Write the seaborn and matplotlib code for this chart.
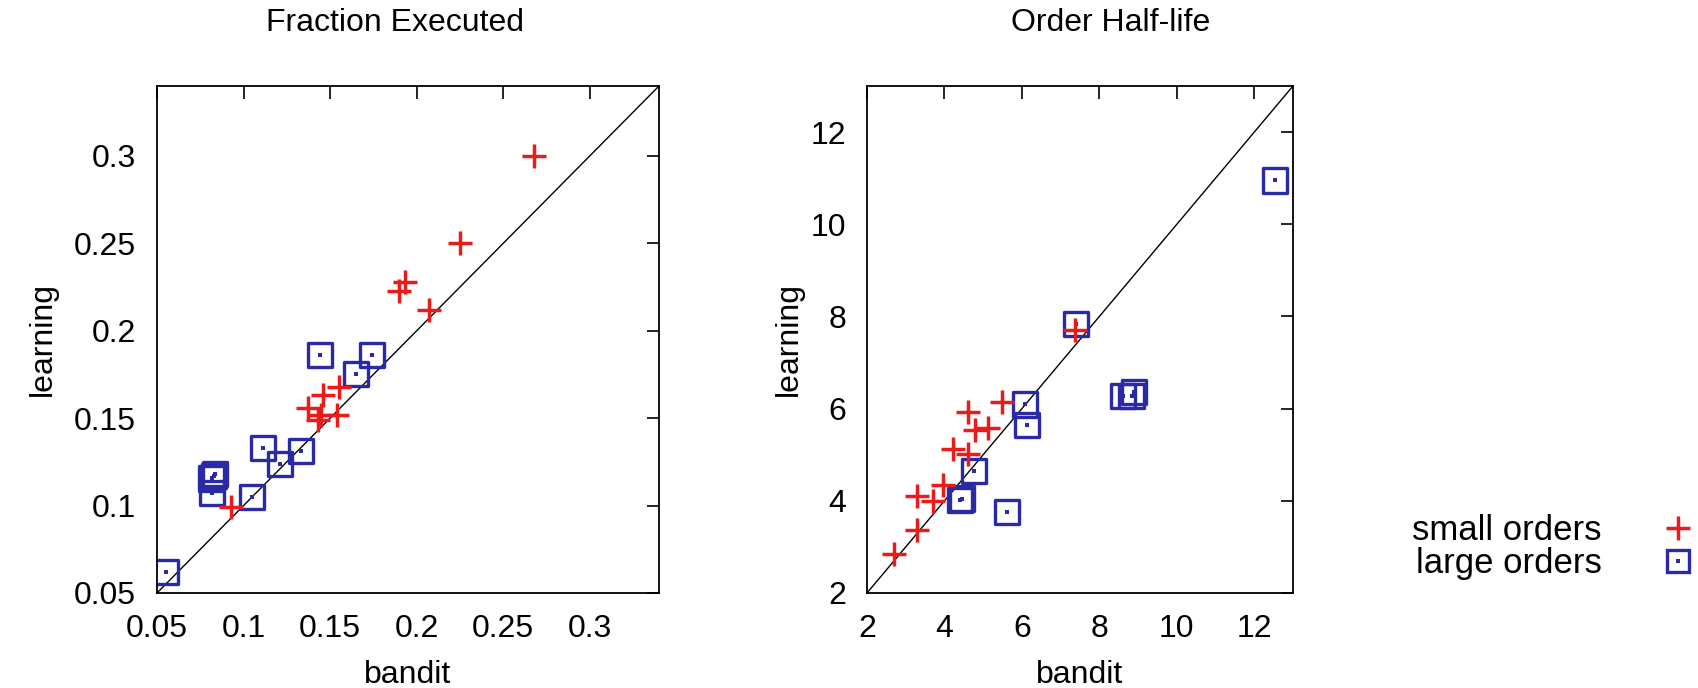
import numpy as np
import pandas as pd
import matplotlib
matplotlib.use('Agg')
import matplotlib.pyplot as plt
import seaborn as sns
from matplotlib.lines import Line2D
from matplotlib.legend_handler import HandlerTuple

# Fraction Executed panel
frac_small_bandit = [0.268, 0.225, 0.193, 0.190, 0.207, 0.155, 0.146, 0.137, 0.143, 0.145, 0.154, 0.093]
frac_small_learning = [0.300, 0.250, 0.228, 0.223, 0.212, 0.168, 0.163, 0.156, 0.149, 0.152, 0.152, 0.099]
frac_large_bandit = [0.055, 0.105, 0.083, 0.0815, 0.0835, 0.082, 0.111, 0.121, 0.133, 0.144, 0.165, 0.174]
frac_large_learning = [0.062, 0.105, 0.117, 0.1155, 0.118, 0.107, 0.133, 0.124, 0.131, 0.186, 0.175, 0.186]
frac_ticks = [0.05, 0.1, 0.15, 0.2, 0.25, 0.3]
frac_tick_labels = ["0.05", "0.1", "0.15", "0.2", "0.25", "0.3"]
frac_lim = (0.05, 0.34)

# Order Half-life panel
half_small_bandit = [2.71, 3.29, 3.29, 3.70, 3.95, 4.23, 4.62, 4.62, 4.79, 5.13, 5.49, 7.36]
half_small_learning = [2.85, 3.37, 4.11, 3.99, 4.34, 5.12, 5.02, 5.93, 5.54, 5.57, 6.14, 7.71]
half_large_bandit = [4.40, 4.46, 4.77, 5.61, 6.08, 6.12, 7.39, 8.61, 8.89, 8.83, 12.54]
half_large_learning = [4.02, 4.05, 4.65, 3.76, 6.09, 5.64, 7.83, 6.28, 6.37, 6.27, 10.95]
half_ticks = [2, 4, 6, 8, 10, 12]
half_tick_labels = ["2", "4", "6", "8", "10", "12"]
half_lim = (2, 13)

RED = "#ec1a1a"
BLUE = "#2a2aa6"

sns.set_theme(style="white")
plt.rcParams['font.family'] = ['Liberation Sans', 'DejaVu Sans']
plt.rcParams['text.color'] = 'black'
plt.rcParams['axes.labelcolor'] = 'black'
FS = 23

fig = plt.figure(figsize=(16.99, 6.88), dpi=100)
ax1 = fig.add_axes([157 / 1699, 95 / 688, 502 / 1699, 507 / 688])
ax2 = fig.add_axes([867 / 1699, 95 / 688, 426 / 1699, 507 / 688])


def draw_panel(ax, sb, sl, lb, ll, ticks, tick_labels, lim):
    small = pd.DataFrame({"bandit": sb, "learning": sl})
    large = pd.DataFrame({"bandit": lb, "learning": ll})
    ax.axline((lim[0], lim[0]), slope=1, color="black", lw=1.0, zorder=1)
    sns.scatterplot(data=small, x="bandit", y="learning", marker="+", s=320,
                    color=RED, linewidth=2.5, ax=ax, zorder=3)
    sns.scatterplot(data=large, x="bandit", y="learning", marker="s", s=300,
                    facecolors="none", edgecolor=BLUE, linewidth=2.4, ax=ax, zorder=2)
    sns.scatterplot(data=large, x="bandit", y="learning", marker="s", s=7,
                    color=BLUE, linewidth=0, ax=ax, zorder=2)
    ax.set_xlim(lim)
    ax.set_ylim(lim)
    ax.set_xticks(ticks)
    ax.set_xticklabels(tick_labels)
    ax.set_yticks(ticks)
    ax.set_yticklabels(tick_labels)
    ax.tick_params(direction="in", top=True, right=True, length=9, width=1.2,
                   labelsize=FS, colors="black", pad=15)
    for sp in ax.spines.values():
        sp.set_color("black")
        sp.set_linewidth(1.3)
    ax.set_xlabel("bandit", fontsize=FS)
    ax.set_ylabel("learning", fontsize=FS)
    ax.xaxis.set_label_coords(0.5, -0.132)


draw_panel(ax1, frac_small_bandit, frac_small_learning, frac_large_bandit,
           frac_large_learning, frac_ticks, frac_tick_labels, frac_lim)
draw_panel(ax2, half_small_bandit, half_small_learning, half_large_bandit,
           half_large_learning, half_ticks, half_tick_labels, half_lim)
ax1.yaxis.set_label_coords(-0.198, 0.5)
ax2.yaxis.set_label_coords(-0.148, 0.5)

fig.text(395 / 1699, 1 - 23 / 688, "Fraction Executed", fontsize=FS, ha="center", va="center")
fig.text(1111 / 1699, 1 - 23 / 688, "Order Half-life", fontsize=FS, ha="center", va="center")

# key on the right, text first then marker
h_small = Line2D([], [], marker="+", ls="none", color=RED, markersize=17, mew=2.5)
h_sq = Line2D([], [], marker="s", ls="none", mfc="none", mec=BLUE, markersize=16, mew=2.4)
h_dot = Line2D([], [], marker="s", ls="none", color=BLUE, markersize=2.5, mew=0)
fig.legend([h_small, (h_sq, h_dot)], ["small orders", "large orders"],
           handler_map={tuple: HandlerTuple(ndivide=1)},
           loc="center left", bbox_to_anchor=(1395 / 1699, 1 - 547 / 688),
           frameon=False, markerfirst=False, fontsize=25, handlelength=1.0,
           handletextpad=1.7, labelspacing=0.0, borderpad=0)

fig.savefig("out.png", dpi=100, facecolor="white")
